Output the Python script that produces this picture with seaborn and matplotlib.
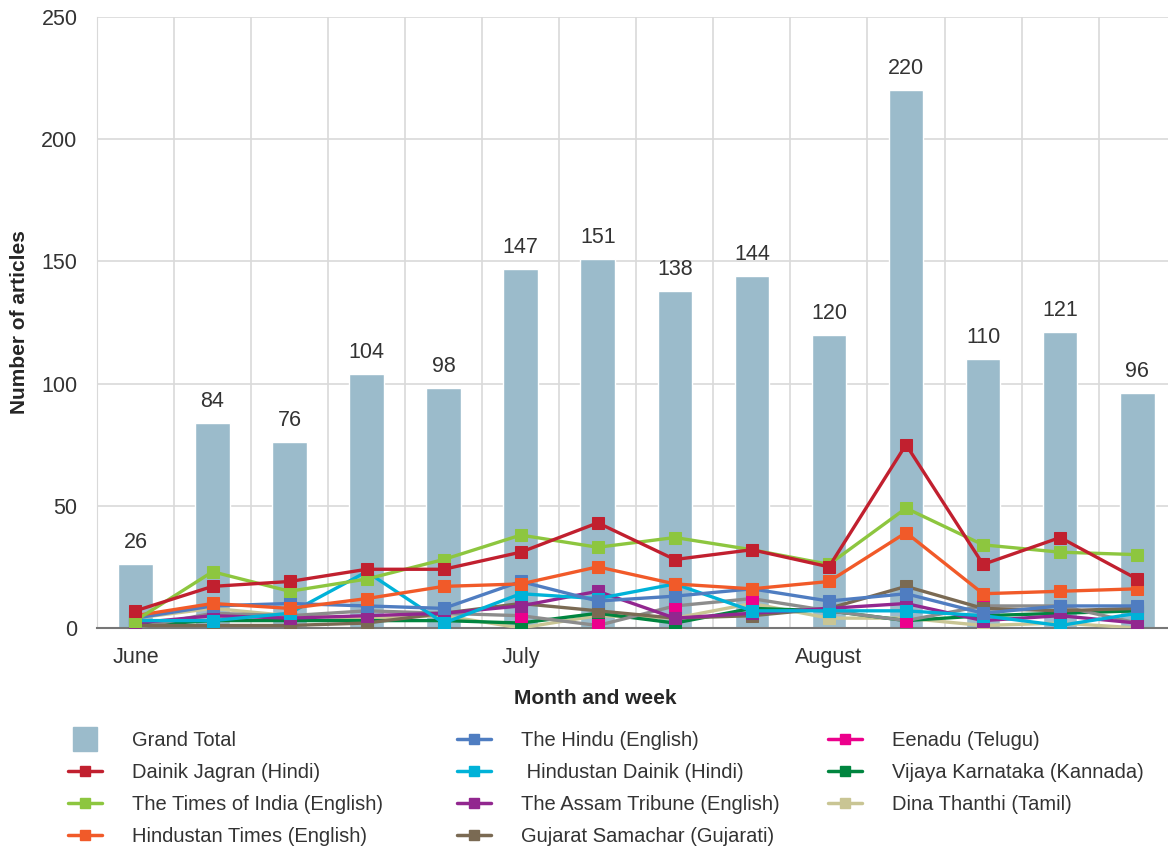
import numpy as np
import pandas as pd
import matplotlib
matplotlib.use('Agg')
import matplotlib.pyplot as plt
from matplotlib.lines import Line2D
import seaborn as sns

# weekly data, June-August
weeks = ['W1', 'W2', 'W3', 'W4', 'W5', 'W6', 'W7',
         'W8', 'W9', 'W10', 'W11', 'W12', 'W13', 'W14']
grand_total = [26, 84, 76, 104, 98, 147, 151, 138, 144, 120, 220, 110, 121, 96]

dainik_jagran = [7, 17, 19, 24, 24, 31, 43, 28, 32, 25, 75, 26, 37, 20]
times_of_india = [3, 23, 15, 20, 28, 38, 33, 37, 32, 26, 49, 34, 31, 30]
hindustan_times = [5, 10, 8, 12, 17, 18, 25, 18, 16, 19, 39, 14, 15, 16]
the_hindu = [4, 9, 10, 9, 8, 19, 11, 13, 16, 11, 14, 6, 9, 9]
hindustan_dainik = [3, 3, 6, 23, 2, 14, 12, 18, 7, 7, 7, 5, 1, 6]
assam_tribune = [2, 5, 4, 5, 6, 9, 15, 4, 6, 8, 10, 3, 5, 2]
gujarat_samachar = [1, 1, 1, 2, 6, 10, 7, 4, 5, 8, 17, 8, 7, 8]
eenadu = [0, 6, 5, 7, 6, 5, 1, 9, 12, 7, 3, 9, 9, 2]
vijaya_karnataka = [1, 3, 3, 3, 3, 2, 6, 2, 8, 7, 3, 5, 6, 7]
dina_thanthi = [4, 8, 5, 4, 5, 0, 5, 4, 10, 4, 4, 1, 2, 0]

month_pos = [0, 5, 9]
month_labels = ['June', 'July', 'August']

sns.set_style('white')
plt.rcParams['font.family'] = ['Liberation Sans', 'DejaVu Sans']

fig = plt.figure(figsize=(11.68, 8.52), dpi=100)
ax = fig.add_axes([0.083, 0.263, 0.917, 0.717])

df = pd.DataFrame({'week': weeks, 'total': grand_total})
sns.barplot(data=df, x='week', y='total', color='#9BBBCB', saturation=1,
            width=0.45, ax=ax, zorder=2)

for i, v in enumerate(grand_total):
    ax.text(i, v + 4.5, str(v), ha='center', va='bottom', fontsize=15.5, color='#333333')

series = [
    ('Dainik Jagran (Hindi)', dainik_jagran, '#C1202F', '#C1202F'),
    ('The Times of India (English)', times_of_india, '#8DC63F', '#8DC63F'),
    ('Hindustan Times (English)', hindustan_times, '#F15A29', '#F15A29'),
    ('The Hindu (English)', the_hindu, '#4F7DC1', '#4F7DC1'),
    (' Hindustan Dainik (Hindi)', hindustan_dainik, '#00B2D8', '#00B2D8'),
    ('The Assam Tribune (English)', assam_tribune, '#92278F', '#92278F'),
    ('Gujarat Samachar (Gujarati)', gujarat_samachar, '#7A6A53', '#7A6A53'),
    ('Eenadu (Telugu)', eenadu, '#8C8C8C', '#EC008C'),
    ('Vijaya Karnataka (Kannada)', vijaya_karnataka, '#00853F', '#00853F'),
    ('Dina Thanthi (Tamil)', dina_thanthi, '#C9C594', '#C9C594'),
]

x = np.arange(len(weeks))
for name, vals, lc, mc in reversed(series):
    sns.lineplot(x=x, y=vals, ax=ax, color=lc, linewidth=2.4, marker='s',
                 markersize=8.5, markerfacecolor=mc, markeredgecolor=mc,
                 zorder=3, legend=False)

handles = [Line2D([], [], linestyle='', marker='s', markersize=17,
                  color='#9BBBCB', label='Grand Total')]
for name, vals, lc, mc in series:
    handles.append(Line2D([], [], color=mc, linewidth=2.5, marker='s',
                          markersize=7, label=name))

ax.set_xlim(-0.5, 13.4)
ax.set_ylim(0, 250)
ax.set_yticks([0, 50, 100, 150, 200, 250])
ax.set_xticks(month_pos)
ax.set_xticklabels(month_labels)
ax.set_xticks(np.arange(-0.5, 13.5, 1), minor=True)
ax.grid(True, which='minor', axis='x', color='#D9D9D9', linewidth=1.2, zorder=0)
ax.grid(True, which='major', axis='y', color='#D9D9D9', linewidth=1.2, zorder=0)
ax.set_axisbelow(True)
ax.tick_params(axis='both', which='both', length=0, labelsize=15.5,
               colors='#333333', pad=14)
ax.tick_params(axis='y', pad=14)
for s in ['top', 'right']:
    ax.spines[s].set_visible(False)
ax.spines['left'].set_color('#D9D9D9')
ax.spines['bottom'].set_color('#777777')
ax.spines['bottom'].set_linewidth(1.5)

ax.set_xlabel('Month and week', fontsize=15, fontweight='bold', labelpad=14)
ax.xaxis.set_label_coords(0.465, -0.1)
ax.set_ylabel('Number of articles', fontsize=15, fontweight='bold', labelpad=9)

# three legend columns placed separately
leg_kw = dict(loc='upper left', frameon=False, fontsize=14.5, handlelength=1.7,
              handletextpad=1.5, labelspacing=0.66, labelcolor='#333333',
              borderaxespad=0)
cols = [(handles[0:4], 0.051), (handles[4:8], 0.384), (handles[8:11], 0.702)]
for hs, xpos in cols:
    fig.legend(handles=hs, bbox_to_anchor=(xpos, 0.152), **leg_kw)

fig.savefig('out.png', dpi=100)
